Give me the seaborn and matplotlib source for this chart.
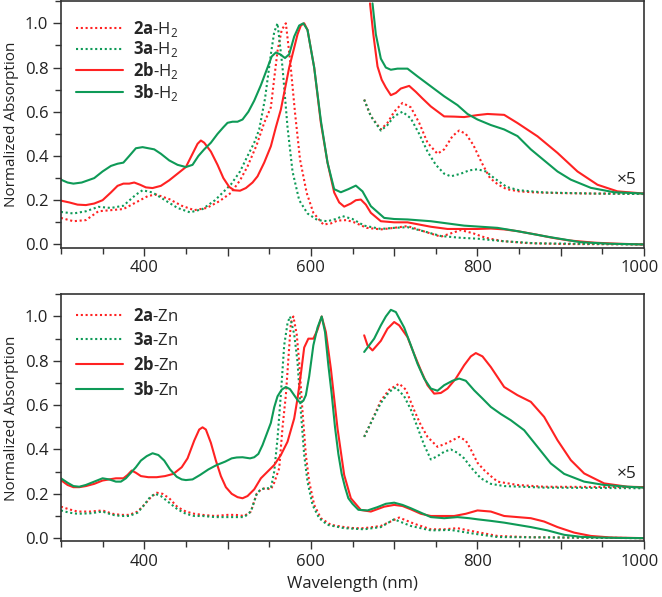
import matplotlib
matplotlib.use("Agg")
import matplotlib.pyplot as plt
import matplotlib.transforms as mtransforms
import seaborn as sns
from matplotlib.ticker import MultipleLocator

# ---- top panel: free-base (H2) ----
wl_2a_h2 = [300, 315, 330, 345, 360, 375, 390, 405, 415, 430, 445, 460, 475, 490, 504, 515, 524,
            535, 544, 552, 556, 560, 565, 570, 575, 581, 587, 595, 603, 615, 624, 632, 643, 652,
            667, 684, 700, 716, 735, 756, 768, 780, 795, 810, 830, 860, 900, 1000]
ab_2a_h2 = [0.12, 0.105, 0.11, 0.15, 0.155, 0.16, 0.19, 0.22, 0.225, 0.205, 0.175, 0.155, 0.165,
            0.195, 0.233, 0.29, 0.353, 0.45, 0.55, 0.62, 0.75, 0.875, 0.97, 1.0, 0.835, 0.595,
            0.384, 0.233, 0.143, 0.09, 0.095, 0.108, 0.11, 0.1, 0.075, 0.068, 0.075, 0.083, 0.06,
            0.035, 0.05, 0.065, 0.05, 0.03, 0.015, 0.006, 0.002, 0.0]

wl_3a_h2 = [300, 315, 330, 345, 360, 375, 390, 398, 410, 425, 440, 455, 470, 485, 504, 515, 524,
            532, 538, 545, 552, 556, 560, 566, 572, 578, 586, 596, 608, 620, 630, 638, 650, 664,
            684, 700, 716, 735, 756, 780, 800, 830, 870, 1000]
ab_3a_h2 = [0.147, 0.14, 0.15, 0.17, 0.165, 0.175, 0.225, 0.245, 0.235, 0.2, 0.165, 0.145, 0.16,
            0.2, 0.271, 0.33, 0.40, 0.46, 0.52, 0.66, 0.86, 0.96, 1.0, 0.8, 0.53, 0.33, 0.2, 0.14,
            0.11, 0.105, 0.115, 0.128, 0.115, 0.085, 0.07, 0.075, 0.078, 0.06, 0.038, 0.03, 0.026,
            0.015, 0.005, 0.0]

wl_2b_h2 = [300, 310, 320, 330, 340, 350, 360, 368, 375, 382, 388, 395, 402, 410, 420, 430, 440,
            450, 458, 464, 468, 472, 480, 488, 495, 502, 508, 515, 522, 530, 536, 544, 552, 558,
            564, 574, 584, 588, 592, 596, 604, 612, 620, 628, 634, 640, 648, 654, 660, 666, 672,
            684, 700, 716, 730, 744, 764, 784, 800, 816, 832, 848, 870, 890, 910, 940, 970, 1000]
ab_2b_h2 = [0.198, 0.19, 0.18, 0.178, 0.185, 0.2, 0.235, 0.265, 0.275, 0.275, 0.28, 0.27, 0.258,
            0.255, 0.265, 0.29, 0.32, 0.35, 0.41, 0.455, 0.47, 0.46, 0.42, 0.36, 0.3, 0.26, 0.245,
            0.243, 0.255, 0.28, 0.308, 0.37, 0.444, 0.53, 0.61, 0.8, 0.95, 0.99, 1.0, 0.97, 0.8,
            0.55, 0.37, 0.235, 0.19, 0.171, 0.185, 0.2, 0.203, 0.18, 0.143, 0.105, 0.1, 0.1, 0.09,
            0.08, 0.07, 0.07, 0.07, 0.072, 0.068, 0.06, 0.045, 0.03, 0.018, 0.008, 0.003, 0.0]

wl_3b_h2 = [300, 308, 315, 325, 340, 350, 360, 368, 375, 382, 390, 398, 405, 412, 420, 430, 440,
            450, 458, 465, 472, 480, 488, 495, 500, 506, 512, 518, 525, 532, 540, 548, 553, 558,
            563, 569, 574, 580, 586, 591, 596, 604, 612, 620, 628, 636, 645, 654, 662, 672, 688,
            700, 716, 744, 784, 824, 848, 884, 924, 960, 1000]
ab_3b_h2 = [0.293, 0.28, 0.275, 0.28, 0.3, 0.33, 0.355, 0.365, 0.37, 0.4, 0.435, 0.44, 0.435,
            0.43, 0.41, 0.38, 0.36, 0.35, 0.36, 0.4, 0.43, 0.46, 0.5, 0.53, 0.55, 0.555, 0.555,
            0.565, 0.6, 0.65, 0.72, 0.8, 0.85, 0.868, 0.86, 0.843, 0.86, 0.94, 0.99, 1.0, 0.97,
            0.8, 0.56, 0.37, 0.25, 0.236, 0.25, 0.266, 0.24, 0.173, 0.12, 0.115, 0.113, 0.105,
            0.085, 0.075, 0.06, 0.035, 0.01, 0.003, 0.0]

# x5 magnified near-IR traces (offset)
wl_2a_h2_x5 = [664, 672, 684, 692, 700, 710, 720, 730, 740, 752, 760, 770, 778, 786, 795, 805,
               815, 825, 835, 850, 870, 900, 940, 1000]
ab_2a_h2_x5 = [0.655, 0.58, 0.52, 0.55, 0.6, 0.64, 0.62, 0.55, 0.46, 0.41, 0.43, 0.49, 0.515,
               0.5, 0.45, 0.37, 0.3, 0.27, 0.25, 0.24, 0.235, 0.232, 0.23, 0.23]
wl_3a_h2_x5 = [664, 672, 684, 692, 700, 710, 720, 730, 740, 750, 760, 768, 780, 790, 800, 810,
               820, 835, 850, 880, 940, 1000]
ab_3a_h2_x5 = [0.655, 0.58, 0.515, 0.54, 0.58, 0.6, 0.57, 0.5, 0.42, 0.36, 0.32, 0.308, 0.32,
               0.335, 0.34, 0.33, 0.3, 0.26, 0.245, 0.235, 0.23, 0.228]
wl_2b_h2_x5 = [671, 675, 680, 685, 690, 696, 702, 708, 718, 726, 734, 744, 760, 772, 784, 800,
               812, 832, 848, 872, 896, 920, 944, 968, 1000]
ab_2b_h2_x5 = [1.09, 0.95, 0.805, 0.745, 0.71, 0.675, 0.685, 0.705, 0.717, 0.69, 0.66, 0.624,
               0.579, 0.578, 0.576, 0.585, 0.59, 0.586, 0.549, 0.489, 0.414, 0.33, 0.27, 0.24, 0.23]
wl_3b_h2_x5 = [674, 678, 684, 690, 696, 704, 716, 728, 744, 760, 776, 788, 800, 816, 832, 848,
               864, 880, 896, 912, 936, 964, 1000]
ab_3b_h2_x5 = [1.09, 0.95, 0.84, 0.8, 0.79, 0.795, 0.795, 0.76, 0.715, 0.67, 0.63, 0.59, 0.565,
               0.54, 0.52, 0.49, 0.43, 0.38, 0.33, 0.293, 0.256, 0.236, 0.23]

# ---- bottom panel: zinc complexes ----
wl_2a_zn = [300, 310, 320, 335, 350, 362, 372, 382, 392, 400, 408, 415, 422, 430, 440, 450, 460,
            470, 485, 500, 510, 520, 528, 535, 540, 545, 552, 556, 562, 566, 570, 576, 579, 583,
            586, 590, 594, 598, 604, 612, 624, 640, 652, 664, 684, 706, 724, 744, 760, 776, 796,
            824, 864, 1000]
ab_2a_zn = [0.142, 0.13, 0.12, 0.12, 0.125, 0.11, 0.105, 0.105, 0.12, 0.15, 0.185, 0.205, 0.2,
            0.18, 0.14, 0.12, 0.11, 0.105, 0.1, 0.105, 0.105, 0.1, 0.12, 0.2, 0.22, 0.225, 0.22,
            0.25, 0.315, 0.5, 0.645, 0.97, 1.0, 0.92, 0.795, 0.57, 0.375, 0.255, 0.15, 0.09,
            0.06, 0.05, 0.045, 0.045, 0.055, 0.093, 0.065, 0.04, 0.04, 0.045, 0.03, 0.01, 0.004,
            0.0]

wl_3a_zn = [300, 310, 320, 335, 350, 362, 372, 382, 392, 400, 407, 413, 420, 430, 440, 450, 460,
            470, 485, 500, 510, 520, 528, 535, 540, 545, 552, 556, 560, 564, 568, 572, 575, 580,
            584, 588, 592, 596, 602, 610, 620, 640, 664, 684, 700, 720, 744, 768, 796, 824, 1000]
ab_3a_zn = [0.125, 0.115, 0.11, 0.112, 0.12, 0.105, 0.1, 0.1, 0.115, 0.15, 0.185, 0.2, 0.19,
            0.16, 0.13, 0.11, 0.1, 0.1, 0.095, 0.095, 0.095, 0.095, 0.12, 0.2, 0.22, 0.225, 0.225,
            0.3, 0.45, 0.65, 0.87, 0.97, 1.0, 0.92, 0.795, 0.57, 0.375, 0.255, 0.15, 0.09, 0.06,
            0.045, 0.04, 0.05, 0.085, 0.055, 0.035, 0.037, 0.02, 0.005, 0.0]

wl_2b_zn = [300, 308, 315, 322, 330, 340, 350, 358, 366, 375, 380, 385, 390, 396, 405, 415, 425,
            435, 445, 452, 460, 466, 470, 474, 480, 486, 492, 498, 505, 512, 518, 524, 532, 540,
            548, 556, 564, 572, 580, 584, 588, 592, 597, 603, 608, 613, 618, 624, 632, 640, 648,
            660, 672, 688, 700, 710, 720, 732, 744, 758, 772, 786, 800, 816, 832, 848, 864, 880,
            896, 916, 936, 960, 1000]
ab_2b_zn = [0.262, 0.24, 0.23, 0.23, 0.235, 0.245, 0.26, 0.265, 0.27, 0.27, 0.285, 0.305, 0.295,
            0.28, 0.275, 0.275, 0.28, 0.29, 0.32, 0.36, 0.44, 0.49, 0.5, 0.49, 0.43, 0.35, 0.28,
            0.23, 0.2, 0.185, 0.18, 0.19, 0.22, 0.27, 0.3, 0.33, 0.375, 0.435, 0.54, 0.63, 0.74,
            0.86, 0.9, 0.9, 0.94, 1.0, 0.93, 0.765, 0.495, 0.285, 0.18, 0.127, 0.12, 0.142, 0.15,
            0.145, 0.13, 0.11, 0.1, 0.1, 0.1, 0.11, 0.125, 0.12, 0.1, 0.095, 0.09, 0.075, 0.05,
            0.025, 0.01, 0.003, 0.0]

wl_3b_zn = [300, 308, 315, 322, 330, 340, 350, 358, 366, 372, 378, 384, 390, 396, 403, 410, 417,
            424, 431, 439, 445, 450, 458, 467, 477, 487, 497, 505, 511, 518, 527, 532, 537, 542,
            547, 552, 556, 560, 565, 570, 575, 580, 585, 588, 591, 594, 598, 603, 608, 613, 617,
            621, 625, 629, 633, 637, 641, 645, 650, 657, 668, 680, 690, 700, 710, 720, 732, 744,
            760, 776, 790, 800, 816, 832, 848, 864, 884, 904, 924, 944, 970, 1000]
ab_3b_zn = [0.27, 0.25, 0.235, 0.232, 0.24, 0.255, 0.27, 0.265, 0.255, 0.255, 0.27, 0.295, 0.32,
            0.35, 0.37, 0.383, 0.375, 0.35, 0.31, 0.277, 0.265, 0.262, 0.265, 0.285, 0.31, 0.33,
            0.345, 0.36, 0.364, 0.365, 0.36, 0.365, 0.38, 0.42, 0.47, 0.52, 0.59, 0.64, 0.67,
            0.682, 0.672, 0.645, 0.618, 0.612, 0.62, 0.645, 0.73, 0.87, 0.95, 1.0, 0.93, 0.78,
            0.65, 0.5, 0.38, 0.29, 0.23, 0.18, 0.155, 0.128, 0.125, 0.14, 0.155, 0.16, 0.15,
            0.135, 0.115, 0.095, 0.09, 0.095, 0.09, 0.085, 0.078, 0.07, 0.06, 0.05, 0.035, 0.015,
            0.006, 0.003, 0.001, 0.0]

wl_2a_zn_x5 = [664, 672, 684, 694, 706, 714, 724, 732, 740, 752, 764, 778, 786, 792, 800, 808,
               816, 824, 848, 880, 1000]
ab_2a_zn_x5 = [0.457, 0.52, 0.62, 0.67, 0.697, 0.67, 0.577, 0.51, 0.457, 0.412, 0.43, 0.457,
               0.44, 0.4, 0.34, 0.307, 0.28, 0.255, 0.24, 0.232, 0.23]
wl_3a_zn_x5 = [664, 672, 684, 694, 702, 712, 720, 728, 736, 744, 752, 760, 768, 776, 784, 792,
               804, 816, 832, 880, 1000]
ab_3a_zn_x5 = [0.457, 0.52, 0.61, 0.66, 0.68, 0.64, 0.58, 0.5, 0.42, 0.355, 0.37, 0.39, 0.4,
               0.385, 0.36, 0.32, 0.27, 0.245, 0.235, 0.228, 0.225]
wl_2b_zn_x5 = [664, 668, 674, 684, 692, 700, 706, 716, 724, 732, 740, 748, 756, 764, 774, 784,
               792, 798, 806, 816, 832, 848, 864, 880, 896, 912, 928, 952, 980, 1000]
ab_2b_zn_x5 = [0.915, 0.87, 0.847, 0.89, 0.945, 0.975, 0.96, 0.907, 0.83, 0.757, 0.69, 0.652,
               0.655, 0.675, 0.72, 0.78, 0.82, 0.835, 0.82, 0.772, 0.682, 0.645, 0.615, 0.547,
               0.442, 0.352, 0.292, 0.247, 0.232, 0.23]
wl_3b_zn_x5 = [664, 670, 676, 684, 690, 696, 702, 712, 720, 728, 736, 744, 752, 760, 770, 778,
               786, 796, 806, 816, 828, 840, 856, 872, 888, 904, 928, 952, 980, 1000]
ab_3b_zn_x5 = [0.84, 0.87, 0.9, 0.96, 1.0, 1.03, 1.02, 0.95, 0.87, 0.787, 0.72, 0.675, 0.665,
               0.69, 0.71, 0.72, 0.71, 0.667, 0.63, 0.592, 0.56, 0.532, 0.487, 0.412, 0.337, 0.29,
               0.255, 0.24, 0.232, 0.228]

labels_h2 = [r"$\mathbf{2a}$-H$_2$", r"$\mathbf{3a}$-H$_2$", r"$\mathbf{2b}$-H$_2$", r"$\mathbf{3b}$-H$_2$"]
labels_zn = [r"$\mathbf{2a}$-Zn", r"$\mathbf{3a}$-Zn", r"$\mathbf{2b}$-Zn", r"$\mathbf{3b}$-Zn"]

red = "#ff2222"
green = "#0e9a57"

sns.set_style("ticks")
plt.rcParams["font.family"] = ["Open Sans", "DejaVu Sans"]
plt.rcParams["mathtext.fontset"] = "custom"
plt.rcParams["mathtext.rm"] = "Open Sans"
plt.rcParams["mathtext.bf"] = "Open Sans:bold"
plt.rcParams["font.size"] = 12

fig = plt.figure(figsize=(6.62, 5.97), dpi=100)
ax1 = fig.add_axes([0.092, 0.585, 0.881, 0.413])
ax2 = fig.add_axes([0.092, 0.093, 0.881, 0.414])

panels = [
    (ax1, [(wl_2a_h2, ab_2a_h2), (wl_3a_h2, ab_3a_h2), (wl_2b_h2, ab_2b_h2), (wl_3b_h2, ab_3b_h2)],
     [(wl_2a_h2_x5, ab_2a_h2_x5), (wl_3a_h2_x5, ab_3a_h2_x5), (wl_2b_h2_x5, ab_2b_h2_x5),
      (wl_3b_h2_x5, ab_3b_h2_x5)], labels_h2, 0.99, 0.05),
    (ax2, [(wl_2a_zn, ab_2a_zn), (wl_3a_zn, ab_3a_zn), (wl_2b_zn, ab_2b_zn), (wl_3b_zn, ab_3b_zn)],
     [(wl_2a_zn_x5, ab_2a_zn_x5), (wl_3a_zn_x5, ab_3a_zn_x5), (wl_2b_zn_x5, ab_2b_zn_x5),
      (wl_3b_zn_x5, ab_3b_zn_x5)], labels_zn, 1.005, 0.42),
]
colors = [red, green, red, green]
styles = [(0, (1, 1.3)), (0, (1, 1.3)), "-", "-"]

for ax, main, mag, labels, leg_y, leg_sp in panels:
    for (x, y), c, ls, lab in zip(main, colors, styles, labels):
        sns.lineplot(x=x, y=y, ax=ax, color=c, linestyle=ls, linewidth=1.5, label=lab, sort=False)
    for (x, y), c, ls in zip(mag, colors, styles):
        sns.lineplot(x=x, y=y, ax=ax, color=c, linestyle=ls, linewidth=1.5, sort=False)
    ax.text(979, 0.29, "×5", ha="center", va="center", fontsize=12.5, color="#222222")
    ax.set_xlim(300, 1000)
    ax.set_ylim(-0.015, 1.10)
    ax.xaxis.set_minor_locator(MultipleLocator(50))
    ax.set_xticks([400, 500, 600, 700, 800, 900, 1000])
    ax.set_xticklabels(["400", "", "600", "", "800", "", "1000"])
    ax.yaxis.set_minor_locator(MultipleLocator(0.1))
    ax.set_yticks([0.0, 0.2, 0.4, 0.6, 0.8, 1.0])
    ax.set_yticklabels(["0.0", "0.2", "0.4", "0.6", "0.8", "1.0"])
    ax.tick_params(which="major", direction="out", length=6, width=1, colors="#333333",
                   labelsize=12, labelcolor="#222222", pad=3)
    ax.tick_params(which="minor", direction="out", length=4, width=1, colors="#333333")
    # nudge the last tick label so it stays inside the canvas
    last = ax.get_xticklabels()[-1]
    last.set_transform(last.get_transform() + mtransforms.ScaledTranslation(-3 / 72, 0, fig.dpi_scale_trans))
    for s in ax.spines.values():
        s.set_visible(True)
        s.set_linewidth(1.2)
        s.set_color("#333333")
    ax.set_ylabel("Normalized Absorption", fontsize=11, color="#222222")
    ax.set_xlabel("")
    ax.legend(loc="upper left", bbox_to_anchor=(0.0, leg_y), frameon=False,
              handlelength=2.8, handletextpad=0.6, labelspacing=leg_sp, fontsize=12)
    ax.yaxis.set_label_coords(-0.071, 0.5)

ax2.set_xlabel("Wavelength (nm)", fontsize=12, color="#222222")

fig.savefig("out.png", dpi=100)
plt.close(fig)
